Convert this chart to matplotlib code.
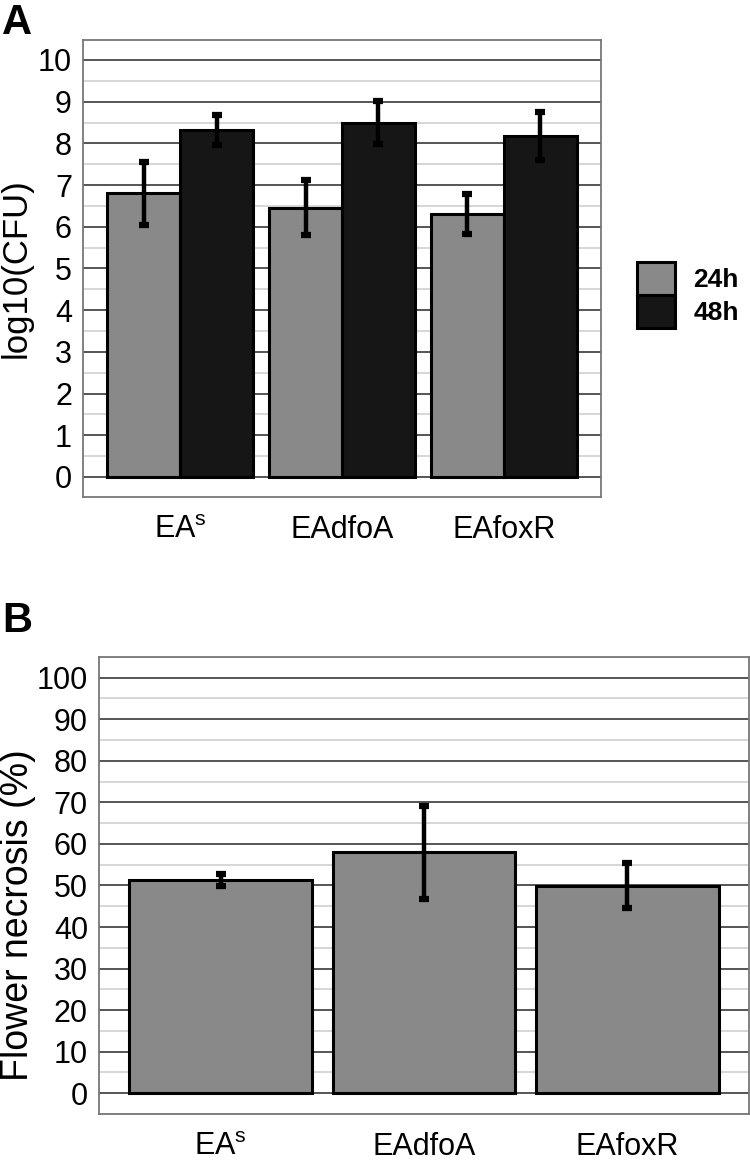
import matplotlib.pyplot as plt
import matplotlib.patches as mpatches
from matplotlib.ticker import MultipleLocator
import numpy as np

plt.rcParams['font.family'] = ['Liberation Sans', 'DejaVu Sans']
plt.rcParams['mathtext.fontset'] = 'custom'
plt.rcParams['mathtext.rm'] = 'Liberation Sans'

# data
strains = [r'EA$^{\mathregular{s}}$', 'EAdfoA', 'EAfoxR']
cfu_24h = [6.8, 6.46, 6.3]
cfu_24h_err = [0.75, 0.66, 0.48]
cfu_48h = [8.32, 8.5, 8.18]
cfu_48h_err = [0.36, 0.52, 0.57]
necrosis = [51.3, 58.0, 49.9]
necrosis_err = [1.4, 11.2, 5.4]
series_labels = ['24h', '48h']

gray = '#898989'
dark = '#161616'

fig = plt.figure(figsize=(7.5, 11.65), dpi=100)
axA = fig.add_axes([0.1107, 0.5734, 0.6907, 0.3923])
axB = fig.add_axes([0.132, 0.0438, 0.8667, 0.3923])


def style_axis(ax, major, minor):
    ax.yaxis.set_major_locator(MultipleLocator(major))
    ax.yaxis.set_minor_locator(MultipleLocator(minor))
    ax.grid(which='major', axis='y', color='#555555', lw=1.4, zorder=0)
    ax.grid(which='minor', axis='y', color='#cfcfcf', lw=1.2, zorder=0)
    ax.set_axisbelow(True)
    for s in ax.spines.values():
        s.set_color('#777777')
        s.set_linewidth(1.3)
    ax.tick_params(axis='both', which='both', length=0, labelsize=22)
    ax.tick_params(axis='y', pad=8)
    ax.tick_params(axis='x', pad=13)


x = np.arange(len(strains))
w = 0.45
eb = dict(ecolor='black', elinewidth=3.2, capsize=3.5, capthick=4.5)

axA.bar(x - w / 2, cfu_24h, w, color=gray, edgecolor='black', lw=2.2,
        yerr=cfu_24h_err, error_kw=eb, zorder=3)
axA.bar(x + w / 2, cfu_48h, w, color=dark, edgecolor='black', lw=2.2,
        yerr=cfu_48h_err, error_kw=eb, zorder=3)
axA.set_xlim(-0.6, 2.6)
axA.set_ylim(-0.48, 10.48)
style_axis(axA, 1, 0.5)
axA.set_xticks(x)
axA.set_xticklabels(strains)
axA.set_ylabel('log10(CFU)', fontsize=25)
axA.yaxis.set_label_coords(-0.097, 0.5)

handles = [mpatches.Patch(facecolor=gray, edgecolor='black', lw=2.2),
           mpatches.Patch(facecolor=dark, edgecolor='black', lw=2.2)]
fig.legend(handles, series_labels, loc='center left',
           bbox_to_anchor=(0.849, 0.747), frameon=False,
           prop={'size': 19, 'weight': 'bold'}, handlelength=1.45,
           handleheight=1.55, labelspacing=0.0, handletextpad=0.7,
           borderpad=0, borderaxespad=0)

axB.bar(x, necrosis, 0.9, color=gray, edgecolor='black', lw=2.2,
        yerr=necrosis_err, error_kw=eb, zorder=3)
axB.set_xlim(-0.6, 2.6)
axB.set_ylim(-5, 105)
style_axis(axB, 10, 5)
axB.set_xticks(x)
axB.set_xticklabels(strains)
axB.set_ylabel('Flower necrosis (%)', fontsize=27)
axB.yaxis.set_label_coords(-0.097, 0.435)

fig.text(0.003, 0.997, 'A', fontsize=30, fontweight='bold', va='top', ha='left')
fig.text(0.003, 0.484, 'B', fontsize=30, fontweight='bold', va='top', ha='left')

plt.savefig('out.png', dpi=100)
